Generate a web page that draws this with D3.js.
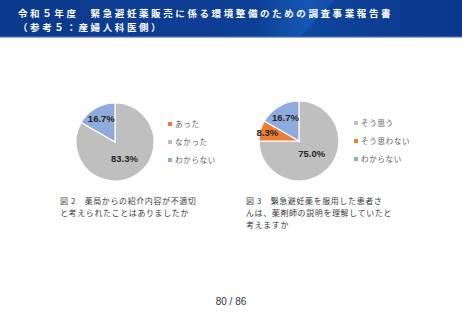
<!DOCTYPE html>
<html>
<head>
<meta charset="utf-8">
<title>調査事業報告書 80/86</title>
<script src="https://cdn.jsdelivr.net/npm/d3@7"></script>
<style>
  body { margin: 0; background: #fff; }
  svg { display: block; }
</style>
</head>
<body>
<div id="chart"></div>
<script>
// data
var titleLines = ["令和５年度　緊急避妊薬販売に係る環境整備のための調査事業報告書", "（参考５：産婦人科医側）"];
var pie1Labels = ["あった", "なかった", "わからない"];
var pie1Values = [0, 83.3, 16.7];
var pie1Colors = ["#ed7d31", "#bfbfbf", "#8faadc"];
var pie1Caption = ["図 2　薬局からの紹介内容が不適切", "と考えられたことはありましたか"];
var pie2Labels = ["そう思う", "そう思わない", "わからない"];
var pie2Values = [75.0, 8.3, 16.7];
var pie2Colors = ["#bfbfbf", "#ed7d31", "#8faadc"];
var pie2Caption = ["図 3　緊急避妊薬を服用した患者さ", "んは、薬剤師の説明を理解していたと", "考えますか"];
var pageText = "80 / 86";

var width = 462, height = 320;
var svg = d3.select("#chart").append("svg")
  .attr("width", width)
  .attr("height", height);

// header band
var defs = svg.append("defs");
var grad = defs.append("linearGradient").attr("id", "hdr")
  .attr("x1", "0%").attr("x2", "100%").attr("y1", "0%").attr("y2", "0%");
grad.append("stop").attr("offset", "0%").attr("stop-color", "#0c3a8c");
grad.append("stop").attr("offset", "55%").attr("stop-color", "#0d3f95");
grad.append("stop").attr("offset", "66%").attr("stop-color", "#1457b3");
grad.append("stop").attr("offset", "74%").attr("stop-color", "#0f4aa6");
grad.append("stop").attr("offset", "100%").attr("stop-color", "#0b3a8e");
svg.append("rect").attr("x", 0).attr("y", 0).attr("width", width).attr("height", 37)
  .attr("fill", "url(#hdr)");
svg.append("path")
  .attr("d", "M300,37 L335,0 L462,0 L462,37 Z")
  .attr("fill", "#0a3688").attr("opacity", 0.45);
svg.append("rect").attr("x", 0).attr("y", 36).attr("width", width).attr("height", 1.5)
  .attr("fill", "#2b5fae");

svg.selectAll("text.title").data(titleLines).enter().append("text")
  .attr("class", "title")
  .attr("x", 18)
  .attr("y", function (d, i) { return 16.8 + i * 13.8; })
  .attr("fill", "#fff")
  .style("font-family", "'Noto Sans CJK JP', sans-serif")
  .style("font-size", "9.5px")
  .style("font-weight", "bold")
  .style("letter-spacing", "2.6px")
  .text(function (d) { return d; });

function drawPie(cx, cy, r, labels, values, colors, labelPos, legendX, legendY) {
  var g = svg.append("g").attr("transform", "translate(" + cx + "," + cy + ")");
  var arcs = d3.pie().sort(null)(values);
  var arc = d3.arc().innerRadius(0).outerRadius(r);
  g.selectAll("path").data(arcs).enter().append("path")
    .attr("d", arc)
    .attr("fill", function (d, i) { return colors[i]; })
    .attr("stroke", "#fff")
    .attr("stroke-width", 1.2);
  // label sits at r*k along the slice bisector
  g.selectAll("text").data(arcs.filter(function (d) { return d.value > 0; })).enter().append("text")
    .attr("x", function (d) { return d3.arc().innerRadius(0).outerRadius(r * labelPos[d.index]).centroid(d)[0] * 2; })
    .attr("y", function (d) { return d3.arc().innerRadius(0).outerRadius(r * labelPos[d.index]).centroid(d)[1] * 2; })
    .attr("dy", "0.35em")
    .attr("text-anchor", "middle")
    .attr("fill", "#262626")
    .style("font-family", "'Liberation Sans', Arial, sans-serif")
    .style("font-size", "9.5px")
    .style("font-weight", "bold")
    .text(function (d) { return d.value.toFixed(1) + "%"; });

  var lg = svg.append("g");
  var items = lg.selectAll("g").data(labels).enter().append("g")
    .attr("transform", function (d, i) { return "translate(" + legendX + "," + (legendY + i * 18) + ")"; });
  items.append("rect").attr("x", -2).attr("y", -2).attr("width", 4).attr("height", 4)
    .attr("fill", function (d, i) { return colors[i]; });
  items.append("text").attr("x", 5).attr("dy", "0.35em")
    .attr("fill", "#595959")
    .style("font-family", "'Noto Sans CJK JP', sans-serif")
    .style("font-size", "7.5px")
    .style("letter-spacing", "0.7px")
    .text(function (d) { return d; });
}

drawPie(115, 142, 39, pie1Labels, pie1Values, pie1Colors, [0.5, 0.48, 0.7], 170, 124);
drawPie(299, 141, 40, pie2Labels, pie2Values, pie2Colors, [0.45, 0.82, 0.68], 356, 123);

function caption(lines, x, y) {
  svg.selectAll(null).data(lines).enter().append("text")
    .attr("x", x)
    .attr("y", function (d, i) { return y + i * 12; })
    .attr("fill", "#3a3a3a")
    .style("font-family", "'Noto Sans CJK JP', serif")
    .style("font-size", "8px")
    .style("letter-spacing", "0.6px")
    .text(function (d) { return d; });
}
caption(pie1Caption, 60, 204);
caption(pie2Caption, 246, 204);

svg.append("text")
  .attr("x", 231).attr("y", 305)
  .attr("text-anchor", "middle")
  .attr("fill", "#333")
  .style("font-family", "'Liberation Sans', Arial, sans-serif")
  .style("font-size", "10px")
  .text(pageText);
</script>
</body>
</html>
